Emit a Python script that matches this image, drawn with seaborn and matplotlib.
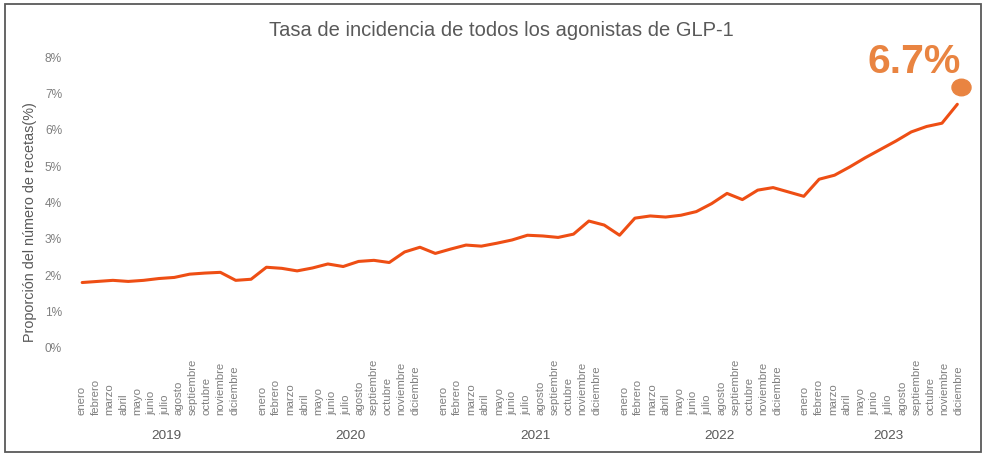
import numpy as np
import matplotlib
matplotlib.use("Agg")
import matplotlib.pyplot as plt
import matplotlib.transforms as mtransforms
from matplotlib.patches import Rectangle
from matplotlib.path import Path
from matplotlib.ticker import PercentFormatter
import seaborn as sns

# Datos (tasa mensual, %)
tasa = [1.80, 1.83, 1.86, 1.83, 1.86, 1.91, 1.94, 2.03, 2.06, 2.08,
        1.86, 1.89, 2.22, 2.19, 2.12, 2.20, 2.31, 2.24, 2.38, 2.41,
        2.35, 2.64, 2.77, 2.60, 2.72, 2.83, 2.80, 2.88, 2.97, 3.10,
        3.08, 3.04, 3.13, 3.49, 3.38, 3.10, 3.57, 3.63, 3.60, 3.65,
        3.75, 3.97, 4.25, 4.08, 4.34, 4.41, 4.29, 4.17, 4.64, 4.75,
        4.98, 5.23, 5.46, 5.69, 5.94, 6.09, 6.18, 6.70]
meses = ["enero", "febrero", "marzo", "abril", "mayo", "junio", "julio",
         "agosto", "septiembre", "octubre", "noviembre", "diciembre"]
anios = ["2019", "2020", "2021", "2022", "2023"]
y_ticks = [0, 1, 2, 3, 4, 5, 6, 7, 8]
punto_y = 7.18  # marcador del ultimo valor

titulo = "Tasa de incidencia de todos los agonistas de GLP-1"
ylabel = "Proporción del número de recetas(%)"

color_linea = "#EE4E14"
color_punto = "#E98441"
gris = "#7F7F7F"
gris_osc = "#595959"

sns.set_theme(style="white")
plt.rcParams["font.family"] = ["Liberation Sans", "DejaVu Sans"]

W, H = 987, 458
fig = plt.figure(figsize=(W / 100, H / 100), dpi=100)

def px(x0, y_top, x1, y_bot):
    return [x0 / W, (H - y_bot) / H, (x1 - x0) / W, (y_bot - y_top) / H]

# eje principal con la linea
ax = fig.add_axes(px(74.5, 57, 965, 348))
n = len(tasa)
idx = np.arange(n)
sns.lineplot(x=idx, y=tasa, ax=ax, color=color_linea, linewidth=2.2)
ax.set_xlim(-0.5, n - 0.5)
ax.set_ylim(0, 8)
ax.set_yticks(y_ticks)
ax.yaxis.set_major_formatter(PercentFormatter(decimals=0))
ax.set_xticks([])
ax.tick_params(axis="y", length=0, pad=9, labelsize=8.6, labelcolor=gris)
for s in ax.spines.values():
    s.set_visible(False)
ax.set_ylabel(ylabel, fontsize=10.4, color=gris_osc)
ax.yaxis.set_label_coords(-0.0424, 0.434)

# punto y etiqueta del ultimo valor
elipse = Path.unit_circle().transformed(mtransforms.Affine2D().scale(1, 0.87))
trans = mtransforms.offset_copy(ax.transData, fig=fig, x=3.5, y=0, units="dots")
ax.plot([n - 1], [punto_y], marker=elipse, markersize=13.7, color=color_punto,
        ls="", transform=trans, clip_on=False)
ax.annotate(f"{tasa[-1]:.1f}%", xy=(n - 1, punto_y), xytext=(-43, 14),
            textcoords="offset pixels", ha="center", va="baseline",
            fontsize=29.5, fontweight="bold", color=color_punto,
            annotation_clip=False)

# eje de meses (con hueco entre anios)
ax_mes = fig.add_axes(px(74.5, 415, 965, 425))
ax_mes.patch.set_alpha(0)
pos_mes, lab_mes = [], []
for i in range(len(anios)):
    for m, nombre in enumerate(meses):
        pos_mes.append(i * (len(meses) + 1) + m)
        lab_mes.append(nombre)
ax_mes.set_xlim(-0.5, pos_mes[-1] + 0.5)
ax_mes.xaxis.tick_top()
ax_mes.set_xticks(pos_mes)
ax_mes.set_xticklabels(lab_mes, rotation=90)
ax_mes.tick_params(axis="x", length=0, pad=0, labelsize=8.2, labelcolor=gris)
ax_mes.set_yticks([])
for s in ax_mes.spines.values():
    s.set_visible(False)

# eje de anios, con la misma escala que la linea
ax_an = fig.add_axes(px(74.5, 425, 965, 441), sharex=ax)
ax_an.patch.set_alpha(0)
inicios = np.arange(-0.5, n - 0.5, 12)
finales = np.minimum(inicios + 12, n - 0.5)
ax_an.set_xticks(inicios, minor=True)
ax_an.tick_params(axis="x", which="minor", length=4.5, width=0.8,
                  color="#D9D9D9", direction="out")
ax_an.tick_params(axis="x", which="major", length=0, labelbottom=False)
ax_an.set_yticks([])
for s in ax_an.spines.values():
    s.set_visible(False)
for a, c in zip(anios, (inicios + finales) / 2):
    ax_an.text(c, 0.31, a, transform=ax_an.get_xaxis_transform(),
               ha="center", va="center", fontsize=9.7, color=gris_osc)

fig.text(501 / W, 1 - 31 / H, titulo, ha="center", va="center",
         fontsize=14.5, color=gris_osc)

# marco exterior
fig.patches.append(Rectangle((5 / W, (H - 451.5) / H), 976 / W, 447.5 / H,
                             transform=fig.transFigure, fill=False,
                             edgecolor=gris_osc, linewidth=1.3))

fig.savefig("out.png", dpi=100)
